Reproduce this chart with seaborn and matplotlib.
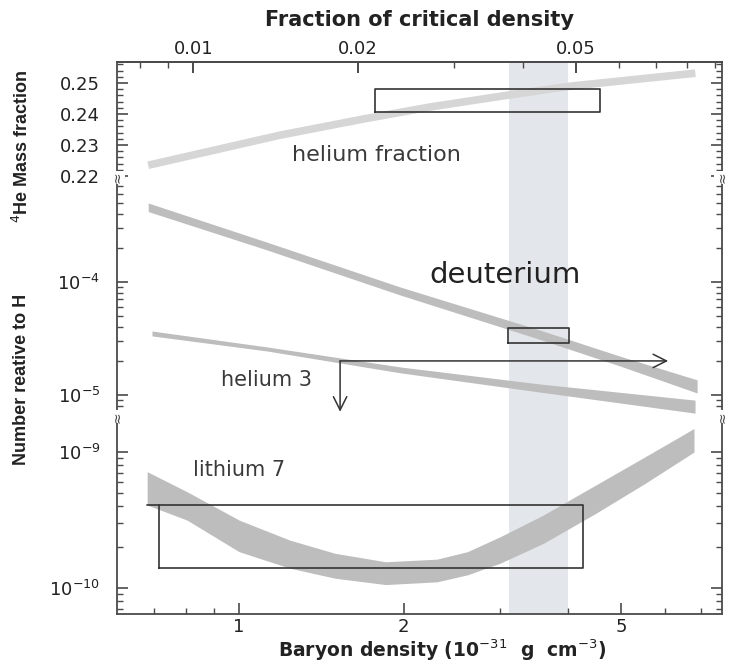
import numpy as np
import pandas as pd
import matplotlib
matplotlib.use("Agg")
import matplotlib.pyplot as plt
import matplotlib.ticker as mticker
import seaborn as sns

# -----------------------------
# Data
# -----------------------------
# helium-4 mass fraction curve
he_x = [0.682, 1.188, 1.686, 2.236, 3.10, 4.03, 6.83]
he_y = [0.2235, 0.2332, 0.2384, 0.2423, 0.2461, 0.2490, 0.2532]
he_box_x = [1.77, 4.58]
he_box_y = [0.2406, 0.2481]

# deuterium band
d_x = [0.682, 1.125, 1.97, 3.55, 4.98, 6.88]
d_lo = [4.2e-4, 1.92e-4, 7.67e-5, 3.1e-5, 1.8e-5, 1.04e-5]
d_hi = [5.0e-4, 2.25e-4, 9.03e-5, 3.75e-5, 2.2e-5, 1.36e-5]
d_box_x = [3.10, 4.01]
d_box_y = [2.88e-5, 3.92e-5]

# helium-3 band
h3_x = [0.693, 1.125, 1.97, 3.55, 6.82]
h3_lo = [3.33e-5, 2.45e-5, 1.57e-5, 1.06e-5, 6.9e-6]
h3_hi = [3.68e-5, 2.66e-5, 1.77e-5, 1.25e-5, 9.0e-6]
# upper limit arrow (corner x, right end x / corner y, bottom end y)
arrow_x = [1.53, 6.09]
arrow_y = [2.0e-5, 7.1e-6]

# lithium-7 band
li_x = [0.679, 0.803, 1.0, 1.238, 1.498, 1.853, 2.30, 2.615, 3.0, 3.60, 4.49, 5.53, 6.79]
li_hi = [7.17e-10, 5.11e-10, 3.16e-10, 2.25e-10, 1.80e-10, 1.56e-10, 1.63e-10,
         1.85e-10, 2.38e-10, 3.44e-10, 5.72e-10, 9.24e-10, 1.49e-9]
li_lo = [4.08e-10, 3.16e-10, 1.85e-10, 1.40e-10, 1.18e-10, 1.06e-10, 1.11e-10,
         1.25e-10, 1.52e-10, 2.13e-10, 3.54e-10, 5.89e-10, 1.0e-9]
li_box_x = [0.714, 4.26]
li_box_y = [1.40e-10, 4.08e-10]
li_top_start = 0.679

# concordance band (baryon density)
band_x = [3.12, 4.0]

# labels inside the plot
lbl_he = ("helium fraction", 1.78, 0.2268)
lbl_d = ("deuterium", 3.06, 1.15e-4)
lbl_h3 = ("helium 3", 1.12, 1.36e-5)
lbl_li = ("lithium 7", 1.0, 7.4e-10)

crit = 82.5  # baryon density of the critical density, same units

# -----------------------------
# Style
# -----------------------------
sns.set_style("ticks")
plt.rcParams["font.family"] = ["DejaVu Sans"]
plt.rcParams["mathtext.fontset"] = "dejavusans"

band_col = "#bdbdbd"
he_col = "#d6d6d6"
shade_col = "#e3e6ea"
frame_col = "#4a4a4a"
text_col = "#3a3a3a"
tick_fs = 13

fig = plt.figure(figsize=(7.33, 6.64), dpi=100)
L, W = 0.1596, 0.8254
ax_he = fig.add_axes([L, 0.7334, W, 0.1732])
ax_mid = fig.add_axes([L, 0.372, W, 0.3614])
ax_li = fig.add_axes([L, 0.0753, W, 0.2967])

xlim = (0.598, 7.64)
for ax in (ax_he, ax_mid, ax_li):
    ax.set_xscale("log")
    ax.set_xlim(*xlim)
    ax.axvspan(band_x[0], band_x[1], color=shade_col, lw=0, zorder=0)
    for s in ax.spines.values():
        s.set_color(frame_col)
        s.set_linewidth(1.3)
    ax.tick_params(axis="both", which="both", direction="in", colors=frame_col,
                   left=True, right=True, labelsize=tick_fs, labelcolor="#222222")
    ax.tick_params(axis="y", which="both", pad=12)
    ax.tick_params(which="major", length=8, width=1.2)
    ax.tick_params(which="minor", length=4, width=1.0)
    ax.set_facecolor("white")

# helium panel
ax_he.set_ylim(0.2197, 0.2568)
he_df = pd.DataFrame({"x": he_x, "y": he_y})
sns.lineplot(data=he_df, x="x", y="y", ax=ax_he, color=he_col, lw=5.5,
             solid_capstyle="butt", zorder=2)
ax_he.set_xlabel("")
ax_he.set_ylabel("")
ax_he.plot([he_box_x[0], he_box_x[1], he_box_x[1], he_box_x[0], he_box_x[0]],
           [he_box_y[0], he_box_y[0], he_box_y[1], he_box_y[1], he_box_y[0]],
           color="#333333", lw=1.2, zorder=3)
ax_he.text(lbl_he[1], lbl_he[2], lbl_he[0], ha="center", va="center",
           fontsize=16, color=text_col)
ax_he.yaxis.set_major_locator(mticker.FixedLocator([0.22, 0.23, 0.24, 0.25]))
ax_he.yaxis.set_major_formatter(mticker.FormatStrFormatter("%.2f"))
ax_he.yaxis.set_minor_locator(mticker.MultipleLocator(0.002))
ax_he.spines["bottom"].set_visible(False)
ax_he.tick_params(axis="x", which="both", bottom=False, top=False, labelbottom=False)

sec = ax_he.secondary_xaxis("top", functions=(lambda x: x / crit, lambda f: f * crit))
sec.set_xscale("log")
sec.xaxis.set_major_locator(mticker.FixedLocator([0.01, 0.02, 0.05]))
sec.xaxis.set_major_formatter(mticker.FixedFormatter(["0.01", "0.02", "0.05"]))
sec.xaxis.set_minor_locator(mticker.FixedLocator([0.008, 0.009, 0.03, 0.04, 0.06, 0.07, 0.08, 0.09]))
sec.xaxis.set_minor_formatter(mticker.NullFormatter())
sec.tick_params(which="both", direction="in", colors=frame_col, labelsize=tick_fs,
                labelcolor="#222222", pad=3)
sec.tick_params(which="major", length=8, width=1.4)
sec.tick_params(which="minor", length=4, width=1.0)
sec.spines["top"].set_color(frame_col)
sec.spines["top"].set_linewidth(1.3)
sec.set_xlabel("Fraction of critical density", fontsize=15, fontweight="bold",
               color="#222222", labelpad=10)

# deuterium / helium-3 panel
ax_mid.set_yscale("log")
ax_mid.set_ylim(6.38e-6, 8.49e-4)
ax_mid.fill_between(d_x, d_lo, d_hi, color=band_col, lw=0, zorder=2)
ax_mid.fill_between(h3_x, h3_lo, h3_hi, color=band_col, lw=0, zorder=2)
ax_mid.plot([d_box_x[0], d_box_x[1], d_box_x[1], d_box_x[0], d_box_x[0]],
            [d_box_y[0], d_box_y[0], d_box_y[1], d_box_y[1], d_box_y[0]],
            color="#333333", lw=1.2, zorder=3)
ax_mid.annotate("", xy=(arrow_x[1], arrow_y[0]), xytext=(arrow_x[0], arrow_y[0]),
                arrowprops=dict(arrowstyle="->", color="#333333", lw=1.1,
                                mutation_scale=24, shrinkA=0, shrinkB=0), zorder=3)
ax_mid.annotate("", xy=(arrow_x[0], arrow_y[1]), xytext=(arrow_x[0], arrow_y[0]),
                arrowprops=dict(arrowstyle="->", color="#333333", lw=1.1,
                                mutation_scale=24, shrinkA=0, shrinkB=0), zorder=3)
ax_mid.text(lbl_d[1], lbl_d[2], lbl_d[0], ha="center", va="center",
            fontsize=21, color="#222222")
ax_mid.text(lbl_h3[1], lbl_h3[2], lbl_h3[0], ha="center", va="center",
            fontsize=15, color=text_col)
ax_mid.yaxis.set_major_locator(mticker.FixedLocator([1e-5, 1e-4]))
ax_mid.yaxis.set_major_formatter(mticker.FixedFormatter([r"$10^{-5}$", r"$10^{-4}$"]))
ax_mid.yaxis.set_minor_locator(mticker.LogLocator(base=10, subs=np.arange(2, 10)))
ax_mid.yaxis.set_minor_formatter(mticker.NullFormatter())
ax_mid.spines["top"].set_visible(False)
ax_mid.spines["bottom"].set_visible(False)
ax_mid.tick_params(axis="x", which="both", bottom=False, top=False, labelbottom=False)

# lithium panel
ax_li.set_yscale("log")
ax_li.set_ylim(6.44e-11, 1.81e-9)
ax_li.fill_between(li_x, li_lo, li_hi, color=band_col, lw=0, zorder=2)
ax_li.plot([li_box_x[0], li_box_x[1], li_box_x[1], li_box_x[0], li_box_x[0]],
           [li_box_y[0], li_box_y[0], li_box_y[1], li_box_y[1], li_box_y[0]],
           color="#333333", lw=1.2, zorder=3)
ax_li.plot([li_top_start, li_box_x[0]], [li_box_y[1], li_box_y[1]],
           color="#333333", lw=1.2, zorder=3)
ax_li.text(lbl_li[1], lbl_li[2], lbl_li[0], ha="center", va="center",
           fontsize=15, color=text_col)
ax_li.yaxis.set_major_locator(mticker.FixedLocator([1e-10, 1e-9]))
ax_li.yaxis.set_major_formatter(mticker.FixedFormatter([r"$10^{-10}$", r"$10^{-9}$"]))
ax_li.yaxis.set_minor_locator(mticker.LogLocator(base=10, subs=np.arange(2, 10)))
ax_li.yaxis.set_minor_formatter(mticker.NullFormatter())
ax_li.spines["top"].set_visible(False)
ax_li.xaxis.set_major_locator(mticker.FixedLocator([1, 2, 5]))
ax_li.xaxis.set_major_formatter(mticker.FixedFormatter(["1", "2", "5"]))
ax_li.xaxis.set_minor_locator(mticker.FixedLocator([0.7, 0.8, 0.9, 3, 4, 6, 7]))
ax_li.xaxis.set_minor_formatter(mticker.NullFormatter())
ax_li.tick_params(axis="x", which="both", top=False, pad=3)

# bottom axis title, a bit right of centre as in the reference
fig.text(0.603, 0.021, r"Baryon density (10$^{-31}$  g  cm$^{-3}$)", ha="center",
         va="center", fontsize=13.5, fontweight="bold", color="#222222")

# axis-break marks on both spines
for yb in (0.7334, 0.372):
    for xb in (L, L + W):
        fig.text(xb, yb, "\u2248", rotation=90, ha="center", va="center",
                 fontsize=10, color=frame_col,
                 bbox=dict(boxstyle="square,pad=0.05", fc="white", ec="none"))

# left axis titles (narrower face, like the reference)
fig.text(0.03, 0.78, r"$^4$He Mass fraction", rotation=90, ha="center", va="center",
         fontsize=13, fontweight="bold", color="#222222",
         family=["Liberation Sans", "DejaVu Sans"])
fig.text(0.03, 0.428, "Number reative to H", rotation=90, ha="center", va="center",
         fontsize=13, fontweight="bold", color="#222222",
         family=["Liberation Sans", "DejaVu Sans"])

fig.savefig("out.png", dpi=100, facecolor="white")
